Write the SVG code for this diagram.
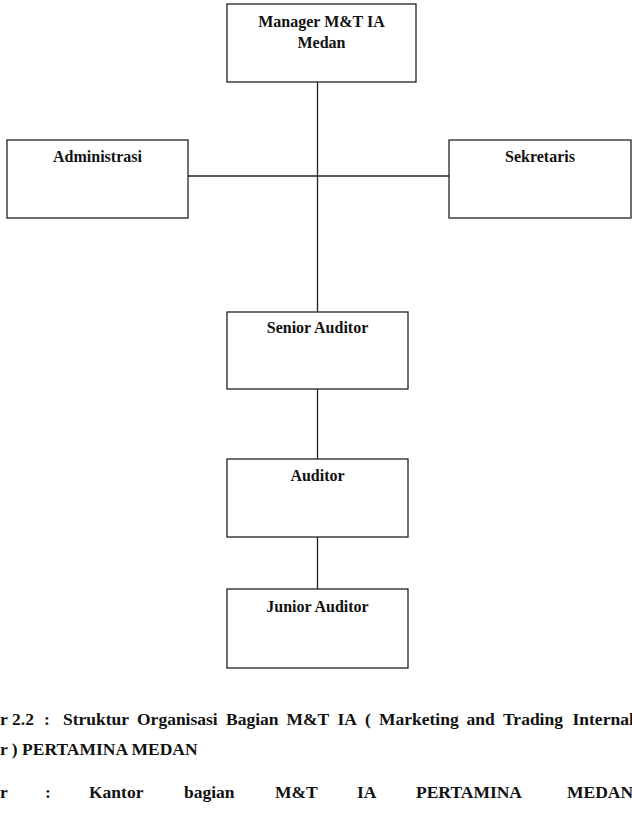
<svg xmlns="http://www.w3.org/2000/svg" width="632" height="820" viewBox="0 0 632 820">
<style>
.box{fill:#fff;stroke:#222;stroke-width:1.3}
.lbl{font-family:"Liberation Serif","Times New Roman",serif;font-weight:bold;font-size:16px;fill:#111;text-anchor:middle}
.cap{font-family:"Liberation Serif","Times New Roman",serif;font-weight:bold;font-size:17.5px;fill:#111}
.con{stroke:#222;stroke-width:1.3;fill:none}
</style>
<rect width="632" height="820" fill="#fff"/>
<g id="connectors">
<line class="con" x1="317.5" y1="82" x2="317.5" y2="312"/>
<line class="con" x1="188" y1="176" x2="449" y2="176"/>
<line class="con" x1="317.5" y1="389" x2="317.5" y2="459"/>
<line class="con" x1="317.5" y1="537" x2="317.5" y2="589"/>
</g>
<g id="manager">
<rect class="box" x="227" y="4" width="189" height="78"/>
<text class="lbl" x="321.5" y="27">Manager M&amp;T IA</text>
<text class="lbl" x="321.5" y="48">Medan</text>
</g>
<g id="administrasi">
<rect class="box" x="7" y="140" width="181" height="78"/>
<text class="lbl" x="97.5" y="162">Administrasi</text>
</g>
<g id="sekretaris">
<rect class="box" x="449" y="140" width="182" height="78"/>
<text class="lbl" x="540" y="162">Sekretaris</text>
</g>
<g id="senior-auditor">
<rect class="box" x="227" y="312" width="181" height="77"/>
<text class="lbl" x="317.5" y="333">Senior Auditor</text>
</g>
<g id="auditor">
<rect class="box" x="227" y="459" width="181" height="78"/>
<text class="lbl" x="317.5" y="481">Auditor</text>
</g>
<g id="junior-auditor">
<rect class="box" x="227" y="589" width="181" height="79"/>
<text class="lbl" x="317.5" y="612">Junior Auditor</text>
</g>
<g id="caption">
<text class="cap" y="725"><tspan x="0">r</tspan><tspan x="12">2.2</tspan><tspan x="44">:</tspan><tspan x="63">Struktur</tspan><tspan x="137">Organisasi</tspan><tspan x="226">Bagian</tspan><tspan x="286.5">M&amp;T</tspan><tspan x="337.5">IA</tspan><tspan x="365">(</tspan><tspan x="379">Marketing</tspan><tspan x="466.5">and</tspan><tspan x="503">Trading</tspan><tspan x="572.5">Internal</tspan></text>
<text class="cap" x="0" y="755">r ) PERTAMINA MEDAN</text>
<text class="cap" y="798"><tspan x="0">r</tspan><tspan x="45">:</tspan><tspan x="89">Kantor</tspan><tspan x="184">bagian</tspan><tspan x="275">M&amp;T</tspan><tspan x="357">IA</tspan><tspan x="416">PERTAMINA</tspan><tspan x="567">MEDAN</tspan></text>
</g>
</svg>
